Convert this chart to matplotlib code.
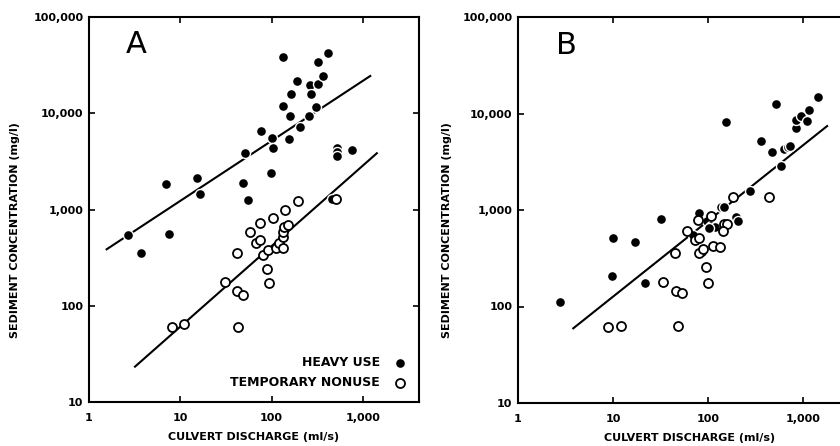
import numpy as np
import matplotlib
matplotlib.use("Agg")
import matplotlib.pyplot as plt

# === data ===
# panel A, heavy use (discharge ml/s, concentration mg/l)
heavy_a_q = [2.7, 3.7, 7.6, 6.9, 15.1, 16.4, 49, 54.7, 51, 76.6, 97.8, 100, 103,
             134, 134, 154, 159, 162, 188, 205, 255, 263, 270, 306, 325, 325,
             368, 415, 516, 516, 516, 754, 455]
heavy_a_c = [540, 350, 550, 1850, 2100, 1450, 1900, 1250, 3850, 6500, 2400, 5500, 4400,
             38000, 11900, 5400, 9400, 16000, 21500, 7200, 9400, 19500, 15700, 11700, 34000, 20000,
             24500, 42500, 4350, 3950, 3600, 4150, 1300]

# panel A, temporary nonuse
nonuse_a_q = [8.2, 11.1, 42.5, 30.9, 42.2, 48.2, 42.2, 58, 74.6, 67.5, 74.6, 81, 90.6,
              88.3, 94.4, 103, 112, 119, 132, 132, 134, 137, 150, 140, 196, 507]
nonuse_a_c = [60, 64, 60, 178, 142, 129, 351, 580, 719, 452, 482, 337, 379,
              241, 171, 809, 395, 445, 395, 514, 580, 662, 690, 989, 1233, 1280]

# regression lines of panel A (end points)
fit_heavy_q = [1.56, 1200]
fit_heavy_c = [386, 24400]
fit_nonuse_q = [3.19, 1416]
fit_nonuse_c = [23.3, 3840]

# panel B, heavy use
heavy_b_q = [2.77, 10.1, 17.1, 9.8, 21.9, 32, 80, 97, 109, 118, 103, 86.5, 69.5,
             139, 147, 197, 208, 281, 586, 157, 361, 475, 516, 636, 690, 730,
             838, 857, 968, 1110, 1156, 1450]
heavy_b_c = [112, 509, 463, 207, 174, 807, 925, 774, 683, 662, 646, 367, 550,
             1067, 1085, 840, 769, 1585, 2860, 8110, 5220, 3960, 12400, 4290, 4530, 4630,
             7030, 8570, 9420, 8430, 10860, 14800]

# panel B, temporary nonuse
nonuse_b_q = [185, 443, 109, 79, 60.6, 73, 80, 147, 160, 143, 45, 81, 89, 114, 134,
              95, 101, 33.9, 45.7, 52.8, 8.9, 12.1, 48]
nonuse_b_c = [1374, 1374, 874, 787, 611, 489, 509, 716, 724, 611, 356, 356, 392, 427, 417,
              255, 177, 181, 146, 137, 62, 63, 63]

# single regression line of panel B
fit_all_q = [3.82, 1803]
fit_all_c = [59.4, 7410]

x_ticks = [1, 10, 100, 1000]
x_labels = ["1", "10", "100", "1,000"]
y_ticks = [10, 100, 1000, 10000, 100000]
y_labels = ["10", "100", "1,000", "10,000", "100,000"]

# === figure ===
W, H = 840, 446
fig = plt.figure(figsize=(W / 100, H / 100), dpi=100)

def px_axes(left, top, right, bottom):
    return fig.add_axes([left / W, 1 - bottom / H, (right - left) / W, (bottom - top) / H])

ax_a = px_axes(89, 17, 419, 402)
ax_b = px_axes(518, 17, 518 + 343, 403)

def style(ax, letter, ylab_x):
    ax.set_xscale("log")
    ax.set_yscale("log")
    ax.set_xlim(1, 4100)
    ax.set_ylim(10, 100000)
    ax.set_xticks(x_ticks, x_labels)
    ax.set_yticks(y_ticks, y_labels)
    ax.minorticks_off()
    ax.tick_params(direction="in", top=True, right=True, length=4, width=1.2,
                   labelsize=8, colors="black")
    ax.tick_params(axis="x", pad=8)
    ax.tick_params(axis="y", pad=4)
    for lab in ax.get_xticklabels() + ax.get_yticklabels():
        lab.set_fontweight("bold")
    for sp in ax.spines.values():
        sp.set_linewidth(1.5)
    ax.set_xlabel("CULVERT DISCHARGE (ml/s)", fontsize=8, fontweight="bold")
    ax.xaxis.set_label_coords(0.5, -0.077)
    ax.set_ylabel("SEDIMENT CONCENTRATION (mg/l)", fontsize=8, fontweight="bold")
    ax.yaxis.set_label_coords(ylab_x, 0.447)
    ax.text(0.11, 0.965, letter, transform=ax.transAxes, fontsize=22,
            ha="left", va="top")

filled_kw = dict(s=52, c="black", edgecolors="white", linewidths=1.0, zorder=3)
open_kw = dict(s=42, facecolors="white", edgecolors="black", linewidths=1.3, zorder=3)

# panel A
ax_a.plot(fit_heavy_q, fit_heavy_c, color="black", lw=1.5, zorder=2)
ax_a.plot(fit_nonuse_q, fit_nonuse_c, color="black", lw=1.5, zorder=2)
ax_a.scatter(heavy_a_q, heavy_a_c, label="HEAVY USE", **filled_kw)
ax_a.scatter(nonuse_a_q, nonuse_a_c, label="TEMPORARY NONUSE", **open_kw)
style(ax_a, "A", -0.209)
ax_a.legend(loc="lower right", bbox_to_anchor=(1.014, 0.004), frameon=False,
            markerfirst=False, handletextpad=0.6, labelspacing=0.55,
            prop={"size": 9, "weight": "bold"})

# panel B
ax_b.plot(fit_all_q, fit_all_c, color="black", lw=1.5, zorder=2)
ax_b.scatter(heavy_b_q, heavy_b_c, **filled_kw)
ax_b.scatter(nonuse_b_q, nonuse_b_c, **open_kw)
style(ax_b, "B", -0.192)

fig.savefig("out.png", dpi=100)
